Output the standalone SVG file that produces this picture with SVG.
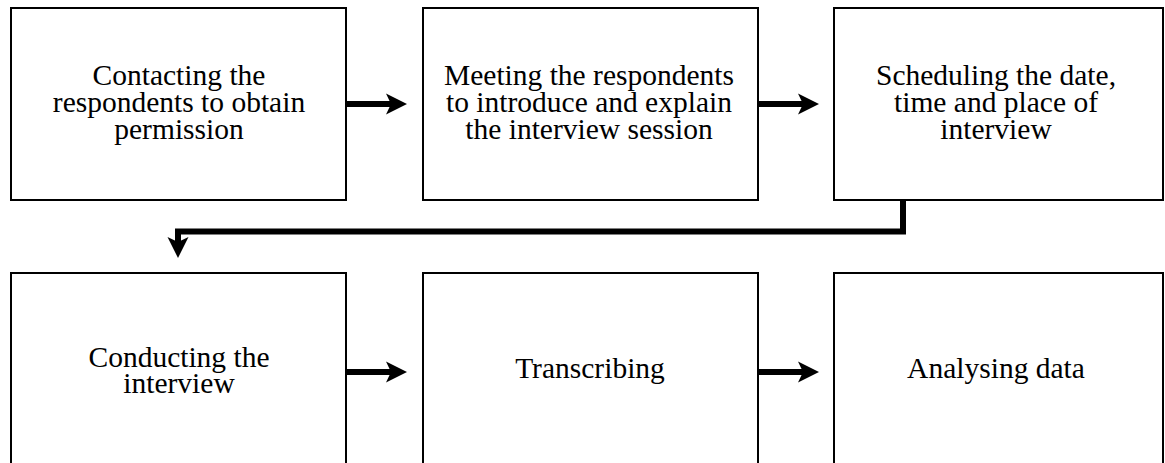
<svg xmlns="http://www.w3.org/2000/svg" width="1165" height="463" viewBox="0 0 1165 463">
<style>
.box{fill:#fff;stroke:#000;stroke-width:2}
.t{font-family:"Liberation Serif","Times New Roman",serif;font-size:29.5px;fill:#000;text-anchor:middle}
.ln{fill:none;stroke:#000;stroke-width:6}
.hd{fill:#000}
</style>
<rect width="1165" height="463" fill="#fff"/>
<g id="n1"><rect class="box" x="11" y="8" width="335" height="192"/>
<text class="t"><tspan x="179" y="85">Contacting the</tspan><tspan x="179" y="112">respondents to obtain</tspan><tspan x="179" y="139">permission</tspan></text></g>
<g id="n2"><rect class="box" x="423" y="8" width="335" height="192"/>
<text class="t"><tspan x="589" y="85">Meeting the respondents</tspan><tspan x="589" y="112">to introduce and explain</tspan><tspan x="589" y="139">the interview session</tspan></text></g>
<g id="n3"><rect class="box" x="834" y="8" width="329" height="192"/>
<text class="t"><tspan x="996" y="85">Scheduling the date,</tspan><tspan x="996" y="112">time and place of</tspan><tspan x="996" y="139">interview</tspan></text></g>
<g id="n4"><rect class="box" x="11" y="273" width="335" height="200"/>
<text class="t"><tspan x="179" y="367">Conducting the</tspan><tspan x="179" y="393">interview</tspan></text></g>
<g id="n5"><rect class="box" x="423" y="273" width="335" height="200"/>
<text class="t" x="590" y="378">Transcribing</text></g>
<g id="n6"><rect class="box" x="834" y="273" width="329" height="200"/>
<text class="t" x="996" y="378">Analysing data</text></g>
<g id="connectors">
<line class="ln" x1="347" y1="104" x2="391" y2="104"/>
<polygon class="hd" points="386,93.5 407,104 386,114.5 391,104"/>
<line class="ln" x1="759" y1="104" x2="803" y2="104"/>
<polygon class="hd" points="798,93.5 819,104 798,114.5 803,104"/>
<line class="ln" x1="347" y1="372" x2="391" y2="372"/>
<polygon class="hd" points="386,361.5 407,372 386,382.5 391,372"/>
<line class="ln" x1="759" y1="372" x2="803" y2="372"/>
<polygon class="hd" points="798,361.5 819,372 798,382.5 803,372"/>
<polyline class="ln" points="903,201 903,231.5 178,231.5 178,243"/>
<polygon class="hd" points="167.5,237 178,258 188.5,237 178,242"/>
</g>
</svg>
